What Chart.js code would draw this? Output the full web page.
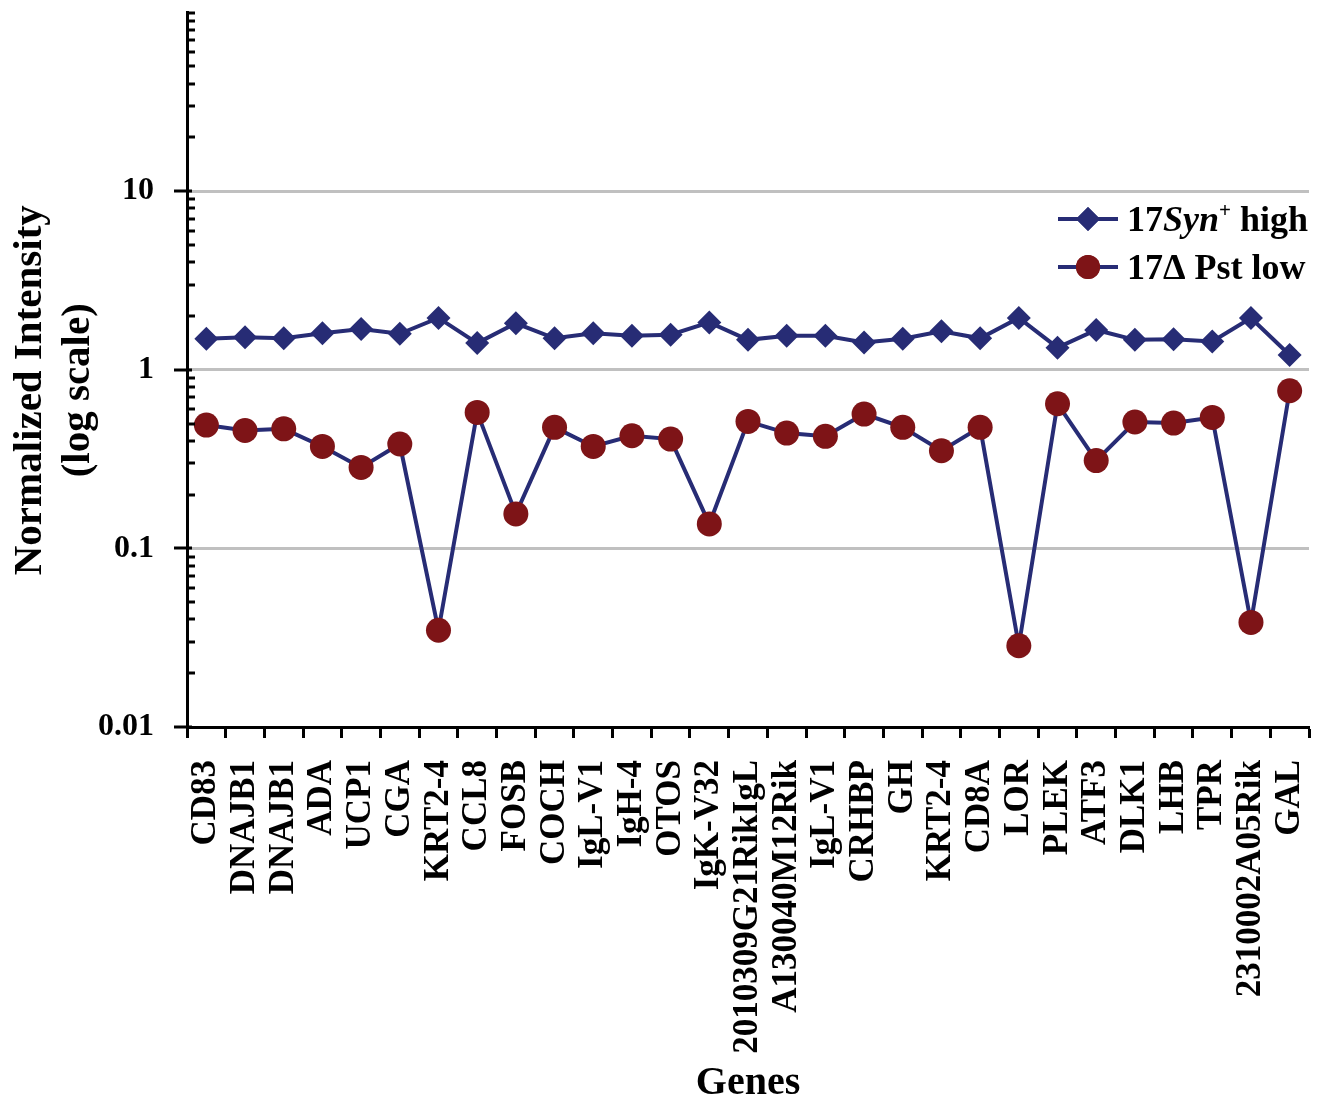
<!DOCTYPE html>
<html>
<head>
<meta charset="utf-8">
<script src="https://cdn.jsdelivr.net/npm/chart.js@4.4.0/dist/chart.umd.min.js"></script>
<style>
  html, body { margin: 0; padding: 0; background: #fff; }
  #wrap { width: 1328px; height: 1104px; }
</style>
</head>
<body>
<div id="wrap"><canvas id="chart"></canvas></div>
<script>
// genes along the x axis
const genes = ['CD83', 'DNAJB1', 'DNAJB1', 'ADA', 'UCP1', 'CGA', 'KRT2-4', 'CCL8', 'FOSB', 'COCH',
  'IgL-V1', 'IgH-4', 'OTOS', 'IgK-V32', '2010309G21RikIgL', 'A130040M12Rik', 'IgL-V1', 'CRHBP', 'GH',
  'KRT2-4', 'CD8A', 'LOR', 'PLEK', 'ATF3', 'DLK1', 'LHB', 'TPR', '2310002A05Rik', 'GAL'];

// normalized intensity
const synHigh = [1.49, 1.52, 1.50, 1.60, 1.69, 1.59, 1.95, 1.41, 1.82, 1.50,
  1.60, 1.55, 1.57, 1.84, 1.47, 1.55, 1.55, 1.42, 1.49,
  1.64, 1.50, 1.95, 1.33, 1.67, 1.47, 1.48, 1.44, 1.95, 1.21];
const pstLow = [0.49, 0.457, 0.467, 0.372, 0.284, 0.384, 0.0348, 0.577, 0.156, 0.476,
  0.372, 0.427, 0.409, 0.137, 0.514, 0.442, 0.424, 0.565, 0.476,
  0.352, 0.476, 0.0285, 0.645, 0.310, 0.510, 0.503, 0.541, 0.0385, 0.763];

const yTickLabels = ['0.01', '0.1', '1', '10'];
const gridValues = [0.1, 1, 10];

const NAVY = '#272C75';
const MAROON = '#7E1417';
const FONT = "'Liberation Serif', 'Times New Roman', serif";

const near = (a, b) => Math.abs(a - b) < b * 1e-6;

// no extra label padding, so the plot box lands where the figure has it
const noPad = s => { s.paddingLeft = 0; s.paddingRight = 0; s.paddingTop = 0; s.paddingBottom = 0; };

// small ticks on the log axis (drawn inside), decades cross the axis
const logTicks = {
  id: 'logTicks',
  afterDraw(chart) {
    const y = chart.scales.y;
    const x0 = chart.chartArea.left;
    const ctx = chart.ctx;
    ctx.save();
    ctx.strokeStyle = '#000';
    ctx.lineWidth = 3;
    for (let e = -2; e <= 2; e++) {
      for (let m = 1; m <= 9; m++) {
        const v = m * Math.pow(10, e);
        if (v > 100.0001) break;
        const py = Math.round(y.getPixelForValue(v));
        const major = m === 1 && e < 2;
        ctx.beginPath();
        ctx.moveTo(major ? x0 - 13 : x0, py);
        ctx.lineTo(x0 + (major ? 5 : 8), py);
        ctx.stroke();
      }
    }
    ctx.restore();
  }
};

const legendItems = [
  { style: 'rectRot', color: NAVY, y: 219, parts: [['17', ''], ['Syn', 'italic'], ['+', 'sup'], [' high', '']] },
  { style: 'circle', color: MAROON, y: 267, parts: [['17\u0394 Pst low', '']] }
];

const legendPlugin = {
  id: 'richLegend',
  afterDraw(chart) {
    const ctx = chart.ctx;
    ctx.save();
    legendItems.forEach(item => {
      ctx.strokeStyle = NAVY;
      ctx.lineWidth = 4;
      ctx.beginPath();
      ctx.moveTo(1058, item.y);
      ctx.lineTo(1118, item.y);
      ctx.stroke();
      ctx.fillStyle = item.color;
      Chart.helpers.drawPoint(ctx, { pointStyle: item.style, radius: 12, rotation: 0, borderWidth: 0 }, 1088, item.y);
      ctx.fill();
      let x = 1127;
      const base = item.y + 12;
      ctx.fillStyle = '#000';
      ctx.textBaseline = 'alphabetic';
      item.parts.forEach(([txt, kind]) => {
        if (kind === 'sup') {
          ctx.font = 'bold 21px ' + FONT;
          ctx.fillText(txt, x, base - 14);
        } else {
          ctx.font = (kind === 'italic' ? 'italic ' : '') + 'bold 36px ' + FONT;
          ctx.fillText(txt, x, base);
        }
        x += ctx.measureText(txt).width;
      });
    });
    ctx.restore();
  }
};

new Chart(document.getElementById('chart'), {
  type: 'line',
  data: {
    labels: genes,
    datasets: [
      {
        label: '17Syn+ high',
        data: synHigh,
        borderColor: NAVY,
        borderWidth: 4,
        backgroundColor: NAVY,
        pointStyle: 'rectRot',
        pointRadius: 12,
        pointBorderWidth: 0,
        tension: 0
      },
      {
        label: '17\u0394 Pst low',
        data: pstLow,
        borderColor: NAVY,
        borderWidth: 4,
        backgroundColor: MAROON,
        pointStyle: 'circle',
        pointRadius: 12.5,
        pointBorderWidth: 0,
        tension: 0
      }
    ]
  },
  options: {
    responsive: true,
    maintainAspectRatio: false,
    animation: false,
    layout: { padding: { top: 12, right: 19, left: 0, bottom: 0 } },
    plugins: {
      legend: { display: false },
      tooltip: { enabled: false }
    },
    scales: {
      x: {
        offset: true,
        grid: {
          offset: true,
          drawOnChartArea: false,
          drawTicks: true,
          tickLength: 11,
          tickWidth: 3,
          tickColor: '#000'
        },
        border: { color: '#000', width: 3 },
        ticks: {
          autoSkip: false,
          minRotation: 90,
          maxRotation: 90,
          padding: 22,
          color: '#000',
          font: { family: FONT, size: 35, weight: 'bold' }
        },
        title: {
          display: true,
          text: 'Genes',
          color: '#000',
          padding: 0,
          font: { family: FONT, size: 40, weight: 'bold', lineHeight: 1 }
        },
        afterFit(scale) { scale.height = 377; noPad(scale); }
      },
      y: {
        type: 'logarithmic',
        min: 0.01,
        max: 100,
        grid: {
          drawTicks: false,
          lineWidth: 3,
          color: c => gridValues.some(g => near(c.tick.value, g)) ? '#C0C0C0' : 'rgba(0,0,0,0)'
        },
        border: { color: '#000', width: 3 },
        ticks: {
          autoSkip: false,
          padding: 33,
          color: '#000',
          font: { family: FONT, size: 32, weight: 'bold' },
          callback: v => yTickLabels.find(l => near(v, parseFloat(l))) || ''
        },
        title: {
          display: true,
          // trailing en spaces nudge the title a little below the axis centre, as in the figure
          text: ['Normalized Intensity\u2002\u2002', '(log scale)\u2002\u2002'],
          color: '#000',
          padding: { top: 6, bottom: 0 },
          font: { family: FONT, size: 41, weight: 'bold', lineHeight: 1.17 }
        },
        afterFit(scale) { scale.width = 187; noPad(scale); }
      }
    }
  },
  plugins: [logTicks, legendPlugin]
});
</script>
</body>
</html>
